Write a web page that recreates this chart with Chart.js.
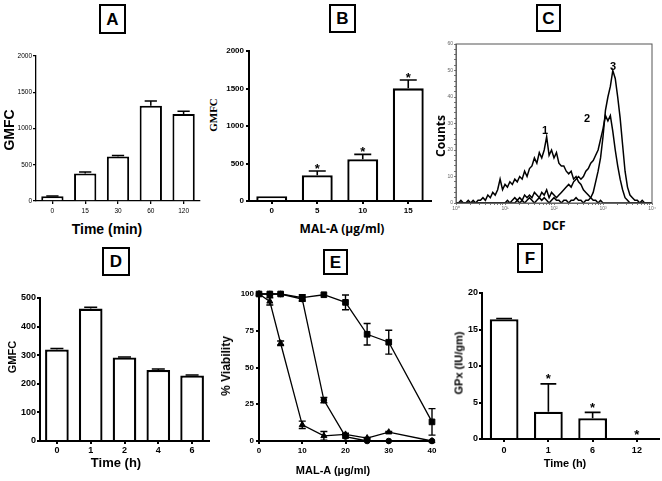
<!DOCTYPE html>
<html><head><meta charset="utf-8">
<script src="https://cdn.jsdelivr.net/npm/chart.js@4.4.1/dist/chart.umd.min.js"></script>
<style>
body{margin:0;background:#fff;}
#wrap{position:relative;width:662px;height:481px;background:#fff;overflow:hidden;font-family:"Liberation Sans",Arial,sans-serif;color:#000;}
canvas{position:absolute;}
.box{position:absolute;border:2px solid #000;box-sizing:border-box;font:bold 17px "Liberation Sans",Arial,sans-serif;display:flex;align-items:center;justify-content:center;line-height:1;}
.lbl{position:absolute;white-space:nowrap;transform:translate(-50%,-50%);font-weight:bold;line-height:1;}
.rot{transform:translate(-50%,-50%) rotate(-90deg);}
.os{font-family:"Open Sans","Liberation Sans",sans-serif;}
.sf{font-family:"Liberation Serif","Times New Roman",serif;}
</style></head>
<body>
<div id="wrap">
  <canvas id="cA"></canvas><canvas id="cB"></canvas><canvas id="cC"></canvas>
  <canvas id="cD"></canvas><canvas id="cE"></canvas><canvas id="cF"></canvas>

  <div class="box" style="left:99px;top:4px;width:27px;height:30px;">A</div>
  <div class="box" style="left:329px;top:4px;width:27px;height:29px;">B</div>
  <div class="box" style="left:536px;top:4px;width:25px;height:28px;">C</div>
  <div class="box" style="left:102px;top:247px;width:28px;height:29px;">D</div>
  <div class="box" style="left:323px;top:249px;width:25px;height:26px;">E</div>
  <div class="box" style="left:517px;top:243px;width:26px;height:30px;">F</div>

  <div class="lbl rot" style="left:9px;top:130px;font-size:14px;">GMFC</div>
  <div class="lbl" style="left:107px;top:229px;font-size:14px;">Time (min)</div>

  <div class="lbl rot sf" style="left:213px;top:115px;font-size:11px;">GMFC</div>
  <div class="lbl os" style="left:342px;top:229px;font-size:12px;">MAL-A (µg/ml)</div>

  <div class="lbl rot os" style="left:441px;top:136px;font-size:12px;">Counts</div>
  <div class="lbl os" style="left:554px;top:226px;font-size:12px;">DCF</div>
  <div class="lbl" style="left:545px;top:130px;font-size:11px;">1</div>
  <div class="lbl" style="left:587px;top:118px;font-size:11px;">2</div>
  <div class="lbl" style="left:613px;top:66px;font-size:11px;">3</div>

  <div class="lbl rot" style="left:12px;top:357px;font-size:11px;">GMFC</div>
  <div class="lbl" style="left:116px;top:462px;font-size:13px;">Time (h)</div>

  <div class="lbl rot" style="left:226px;top:366px;font-size:12px;">% Viability</div>
  <div class="lbl" style="left:333px;top:470px;font-size:11px;">MAL-A (µg/ml)</div>

  <div class="lbl rot" style="left:459px;top:363px;font-size:11px;">GPx (IU/gm)</div>
  <div class="lbl" style="left:565px;top:463px;font-size:11px;">Time (h)</div>
</div>
<script>
// ---------- DATA ----------
// Panel A
const aTimes = ['0','15','30','60','120'];
const aGmfc  = [65, 380, 613, 1313, 1199];
const aErr   = [5, 20, 15, 65, 40];
// Panel B
const bDose  = ['0','5','10','15'];
const bGmfc  = [62, 343, 556, 1502];
const bErr   = [0, 57, 66, 111];
const bStar  = [false, true, true, true];
// Panel C (x = log10 DCF)
const cExp = [0.00,0.05,0.10,0.15,0.20,0.25,0.30,0.35,0.40,0.45,0.50,0.55,0.60,0.65,0.70,0.75,0.80,0.85,0.90,0.95,
  1.00,1.05,1.10,1.15,1.20,1.25,1.30,1.35,1.40,1.45,1.50,1.55,1.60,1.65,1.70,1.75,1.80,1.85,1.90,1.95,
  2.00,2.05,2.10,2.15,2.20,2.25,2.30,2.35,2.40,2.45,2.50,2.55,2.60,2.65,2.70,2.75,2.80,2.85,2.90,2.95,
  3.00,3.05,3.10,3.15,3.20,3.25,3.30,3.35,3.40,3.45,3.50,3.55,3.60,3.65,3.70,3.75,3.80,3.85,3.90,3.95,4.00];
const cCurve1 = [0,0,1,0,0,1,0,1,0,1,1,2,1,3,2,4,3,5,9,5,
  7,6,8,7,9,8,10,9,12,10,13,14,17,15,19,17,20,25,18,20,
  17,19,15,14,14,12,11,12,9,10,8,7,5,4,3,2,1,1,0,1,
  0,0,0,0,0,0,0,0,0,0,0,0,0,0,0,0,0,0,0,0,0];
const cCurve2 = [0,0,0,0,0,0,0,0,0,0,0,0,0,0,0,0,0,0,0,0,
  0,1,0,1,2,1,2,1,3,2,3,2,4,3,2,4,3,5,2,4,
  3,2,3,4,5,6,7,6,8,9,10,9,10,12,13,15,16,18,20,24,
  28,33,31,33,27,20,14,9,5,2,1,0,0,0,0,0,0,0,0,0,0];
const cCurve3 = [0,0,0,0,0,0,0,0,0,0,0,0,0,0,0,0,0,0,0,0,
  0,0,0,0,0,1,0,1,0,1,2,1,0,1,2,1,2,1,0,1,
  2,1,1,0,1,1,0,1,1,2,1,1,0,1,1,2,4,8,12,17,
  25,35,40,44,50,47,40,32,22,12,6,3,2,1,1,0,1,0,0,0,0];
const cTickLabels = ['10\u2070','10\u00B9','10\u00B2','10\u00B3','10\u2074'];
// Panel D
const dTimes = ['0','1','2','4','6'];
const dGmfc  = [320, 463, 292, 248, 229];
const dErr   = [3, 5, 2, 4, 2];
// Panel E
const eDose      = [0, 2.5, 5, 10, 15, 20, 25, 30, 40];
const eSquares   = [100, 100, 100, 97.5, 99.5, 94.3, 72.6, 67.2, 13];
const eSquaresEr = [0, 0, 0, 2, 0, 5, 7.3, 8.1, 9];
const eCircles   = [100, 100, 100, 96.5, 27.8, 3, 0, 0, 0];
const eCirclesEr = [0, 0, 0, 1.5, 1.8, 1, 0, 0, 0];
const eTriangles = [100, 95, 66.5, 11, 3.5, 4.5, 2, 6, 0];
const eTrianglesEr=[0, 2.5, 1.5, 2.5, 3, 0.8, 0.5, 0.5, 0];
// Panel F
const fTimes = ['0','1','6','12'];
const fGpx   = [16.4, 3.75, 2.85, 0];
const fErr   = [0.1, 3.8, 0.8, 0];
const fStar  = [false, true, true, true];

// ---------- HELPERS ----------
const FONT = '"Liberation Sans", Arial, sans-serif';
Chart.defaults.font.family = FONT;
Chart.defaults.color = '#000';

const errPlugin = {
  id: 'errbars',
  afterDatasetsDraw(chart) {
    const ctx = chart.ctx, ys = chart.scales.y;
    chart.data.datasets.forEach((ds, di) => {
      if (!ds.errors) return;
      const meta = chart.getDatasetMeta(di);
      ctx.save();
      ctx.strokeStyle = '#000';
      ctx.lineWidth = ds.errWidth || 1.5;
      meta.data.forEach((el, i) => {
        const e = ds.errors[i];
        const raw = ds.data[i];
        const v = (typeof raw === 'object') ? raw.y : raw;
        const cap = ds.capWidth || el.width * 0.55;
        const top = ys.getPixelForValue(v + e);
        const bot = ds.twoSided ? ys.getPixelForValue(v - e) : el.y;
        if (e > 0) {
          ctx.beginPath();
          ctx.moveTo(el.x, bot); ctx.lineTo(el.x, top);
          ctx.moveTo(el.x - cap / 2, top); ctx.lineTo(el.x + cap / 2, top);
          if (ds.twoSided) { ctx.moveTo(el.x - cap / 2, bot); ctx.lineTo(el.x + cap / 2, bot); }
          ctx.stroke();
        }
        if (ds.stars && ds.stars[i]) {
          ctx.fillStyle = '#000';
          ctx.font = 'bold 13px ' + FONT;
          ctx.textAlign = 'center';
          ctx.textBaseline = 'alphabetic';
          ctx.fillText('*', el.x, top - (ds.starGap || 6) + 7.5);
        }
      });
      ctx.restore();
    });
  }
};

const framePlugin = {
  id: 'frame',
  afterDraw(chart, args, opts) {
    if (!opts || !opts.on) return;
    const a = chart.chartArea, ctx = chart.ctx;
    ctx.save();
    ctx.strokeStyle = opts.color || '#444';
    ctx.lineWidth = opts.width || 1;
    ctx.strokeRect(a.left, a.top, a.right - a.left, a.bottom - a.top);
    ctx.restore();
  }
};

function setupCanvas(id, g) {
  const c = document.getElementById(id);
  const w = g.R - g.L + g.yw + g.pr, h = g.B - g.T + g.pt + g.xh;
  c.width = w; c.height = h;
  c.style.left = (g.L - g.yw) + 'px';
  c.style.top = (g.T - g.pt) + 'px';
  c.style.width = w + 'px'; c.style.height = h + 'px';
  return c;
}

function axis(g, which, o) {
  return {
    type: o.type,
    min: o.min, max: o.max,
    offset: o.offset,
    afterFit: (s) => { if (which === 'y') s.width = g.yw; else s.height = g.xh; },
    afterBuildTicks: o.buildTicks,
    border: { display: true, color: o.lineColor || '#000', width: o.lw || 1.5 },
    grid: { display: true, drawOnChartArea: false, drawTicks: true, tickLength: o.tl || 3,
            color: o.lineColor || '#000', lineWidth: o.lw || 1.5, offset: false },
    ticks: { color: o.tickColor || '#000', autoSkip: false, maxRotation: 0, minRotation: 0,
             padding: o.pad, stepSize: o.step, callback: o.cb,
             font: { family: FONT, size: o.fs, weight: o.bold ? 'bold' : 'normal' } }
  };
}

function baseOpts(g) {
  return {
    responsive: false, animation: false, devicePixelRatio: 1,
    layout: { padding: { left: 0, top: g.pt, right: g.pr, bottom: 0 } },
    plugins: { legend: { display: false }, tooltip: { enabled: false } }
  };
}

function barChart(id, g, labels, values, errors, stars, o) {
  const c = setupCanvas(id, g);
  const opts = baseOpts(g);
  opts.scales = {
    x: axis(g, 'x', { type: 'category', offset: true, fs: o.fs, bold: o.bold, pad: o.xpad, lw: o.lw,
                      cb: function (v) { return this.getLabelForValue(v); } }),
    y: axis(g, 'y', { type: 'linear', min: 0, max: o.max, step: o.step, fs: o.fs, bold: o.bold, pad: o.ypad, lw: o.lw })
  };
  return new Chart(c, {
    type: 'bar',
    data: { labels: labels, datasets: [{
      data: values, errors: errors, stars: stars, starGap: o.starGap,
      backgroundColor: '#fff', borderColor: '#000', borderWidth: o.bw, borderSkipped: 'start',
      barPercentage: o.bp, categoryPercentage: 1, errWidth: o.ew
    }] },
    options: opts,
    plugins: [errPlugin]
  });
}

// ---------- PANEL A ----------
barChart('cA', { L: 36, T: 56, R: 200, B: 201, yw: 30, xh: 16, pt: 8, pr: 4 },
  aTimes, aGmfc, aErr, null,
  { fs: 6.5, bold: false, xpad: 3, ypad: 1, lw: 1.3, max: 2000, step: 500, bw: 2, bp: 0.68, ew: 1.5 });

// ---------- PANEL B ----------
barChart('cB', { L: 249, T: 51, R: 431, B: 201, yw: 30, xh: 16, pt: 8, pr: 4 },
  bDose, bGmfc, bErr, bStar,
  { fs: 8, bold: true, xpad: 2, ypad: 2, lw: 2, max: 2000, step: 500, bw: 2.3, bp: 0.68, ew: 1.6, starGap: 6 });

// ---------- PANEL D ----------
barChart('cD', { L: 40, T: 298, R: 209, B: 441, yw: 30, xh: 16, pt: 8, pr: 4 },
  dTimes, dGmfc, dErr, null,
  { fs: 9, bold: true, xpad: 1, ypad: 1, lw: 2, max: 500, step: 100, bw: 2.3, bp: 0.70, ew: 1.5 });

// ---------- PANEL F ----------
barChart('cF', { L: 482, T: 293, R: 659, B: 439, yw: 30, xh: 16, pt: 8, pr: 3 },
  fTimes, fGpx, fErr, fStar,
  { fs: 9, bold: true, xpad: 3, ypad: 1, lw: 2, max: 20, step: 5, bw: 2.3, bp: 0.65, ew: 1.6, starGap: 8 });

// ---------- PANEL C ----------
(function () {
  const g = { L: 456, T: 44, R: 652, B: 203, yw: 16, xh: 12, pt: 6, pr: 6 };
  const c = setupCanvas('cC', g);
  const opts = baseOpts(g);
  const xTicks = [];
  for (let d = 0; d < 4; d++) for (let k = 1; k < 10; k++) xTicks.push({ value: d + Math.log10(k) });
  xTicks.push({ value: 4 });
  const yTicks = [];
  for (let v = 0; v <= 60; v += 2) yTicks.push({ value: v });
  opts.scales = {
    x: axis(g, 'x', { type: 'linear', min: 0, max: 4, fs: 5, pad: 1, tl: 2, lw: 0.8, lineColor: '#555', tickColor: '#666',
      buildTicks: (s) => { s.ticks = xTicks.slice(); },
      cb: (v) => { const r = Math.round(v); return Math.abs(v - r) < 1e-6 ? cTickLabels[r] : ''; } }),
    y: axis(g, 'y', { type: 'linear', min: 0, max: 60, fs: 5, pad: 1, tl: 2, lw: 0.8, lineColor: '#555', tickColor: '#666',
      buildTicks: (s) => { s.ticks = yTicks.slice(); },
      cb: (v) => (v % 10 === 0 ? String(v) : '') })
  };
  opts.plugins.frame = { on: true, color: '#555', width: 1 };
  const mk = (arr) => ({
    data: cExp.map((x, i) => ({ x: x, y: arr[i] })),
    showLine: true, borderColor: '#000', borderWidth: 1.5, pointRadius: 0, tension: 0, fill: false
  });
  new Chart(c, { type: 'scatter', data: { datasets: [mk(cCurve1), mk(cCurve2), mk(cCurve3)] },
    options: opts, plugins: [framePlugin] });
})();

// ---------- PANEL E ----------
(function () {
  const g = { L: 259, T: 294, R: 432, B: 441, yw: 30, xh: 16, pt: 8, pr: 8 };
  const c = setupCanvas('cE', g);
  const opts = baseOpts(g);
  opts.scales = {
    x: axis(g, 'x', { type: 'linear', min: 0, max: 40, step: 10, fs: 8, bold: true, pad: 2, lw: 2 }),
    y: axis(g, 'y', { type: 'linear', min: 0, max: 100, step: 25, fs: 8, bold: true, pad: 2, lw: 2 })
  };
  const mk = (arr, err, style, r) => ({
    data: eDose.map((x, i) => ({ x: x, y: arr[i] })),
    errors: err, twoSided: true, capWidth: 7, errWidth: 1.4,
    showLine: true, borderColor: '#000', borderWidth: 1.3, tension: 0,
    pointStyle: style, pointRadius: r, pointBackgroundColor: '#000', pointBorderColor: '#000', pointBorderWidth: 1,
    clip: false
  });
  new Chart(c, { type: 'scatter', data: { datasets: [
      mk(eSquares, eSquaresEr, 'rect', 4),
      mk(eCircles, eCirclesEr, 'circle', 2.8),
      mk(eTriangles, eTrianglesEr, 'triangle', 3.5)
    ] }, options: opts, plugins: [errPlugin] });
})();
</script>
</body></html>
